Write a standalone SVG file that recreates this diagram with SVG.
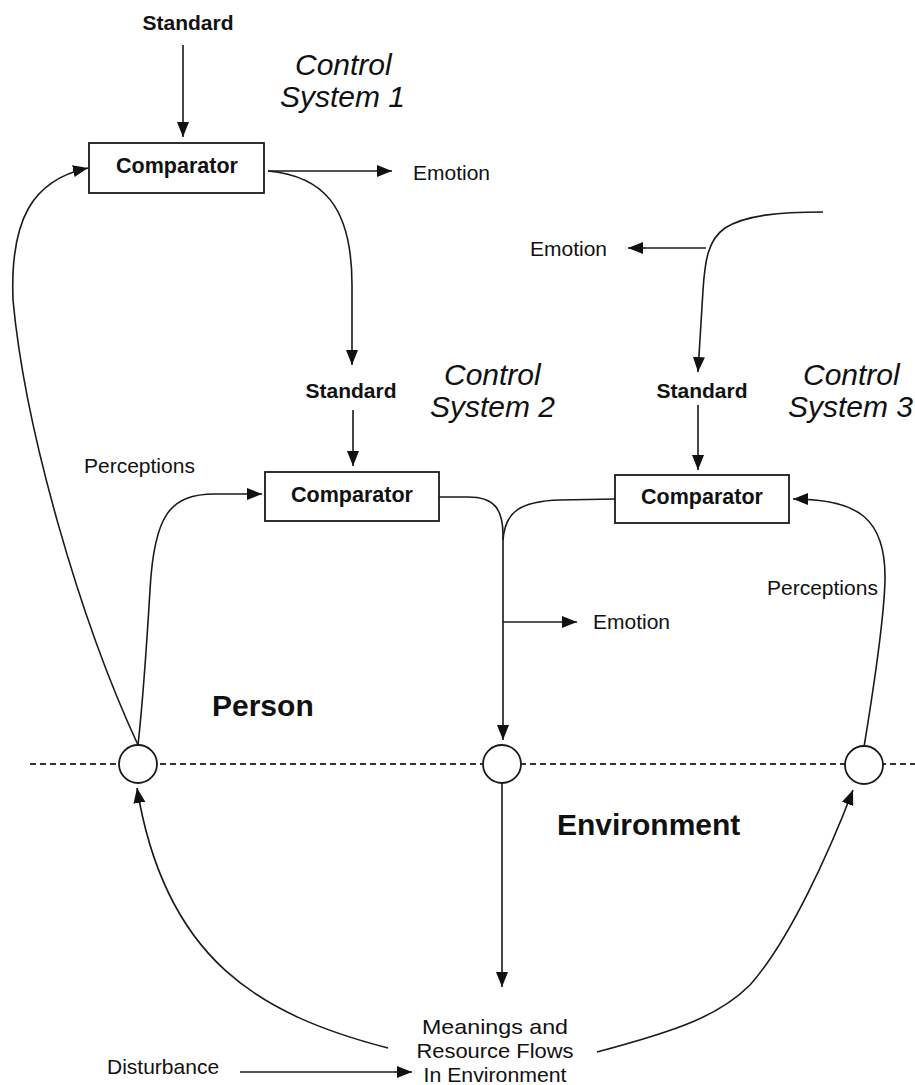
<svg xmlns="http://www.w3.org/2000/svg" width="915" height="1085" viewBox="0 0 915 1085">
<style>
.bg{fill:#fff}
.ln{fill:none;stroke:#1a1a1a;stroke-width:1.6}
.dash{fill:none;stroke:#333;stroke-width:2;stroke-dasharray:6 4}
.box{fill:#fff;stroke:#1a1a1a;stroke-width:1.8}
.circ{fill:#fff;stroke:#1a1a1a;stroke-width:1.8}
.b{font-family:"Liberation Sans",Arial,sans-serif;font-weight:bold;fill:#111}
.r{font-family:"Liberation Sans",Arial,sans-serif;fill:#111}
.i{font-family:"Liberation Sans",Arial,sans-serif;font-style:italic;font-size:30px;fill:#111}
.std{font-size:21px;text-anchor:middle}
.cmp{font-size:21.5px;text-anchor:middle}
.emo{font-size:21px}
.per{font-size:21px}
.env{font-size:21px;text-anchor:middle}
</style>
<defs>
<marker id="ah" markerUnits="userSpaceOnUse" markerWidth="16" markerHeight="12" refX="15" refY="6" orient="auto">
<path d="M0,0 L15,6 L0,12 z" fill="#111"/>
</marker>
</defs>
<rect class="bg" x="0" y="0" width="915" height="1085"/>
<g id="connectors">
<line class="dash" x1="30" y1="764" x2="915" y2="764"/>
<path class="ln" d="M183,45 L183,137" marker-end="url(#ah)"/>
<path class="ln" d="M268,171 L392,171" marker-end="url(#ah)"/>
<path class="ln" d="M268,171 C322,176 352,205 352,285 L352,365" marker-end="url(#ah)"/>
<path class="ln" d="M353,410 L353,466" marker-end="url(#ah)"/>
<path class="ln" d="M138,745 C80,620 25,430 13,300 C10,220 32,180 88,168" marker-end="url(#ah)"/>
<path class="ln" d="M138,745 C143,700 147,640 150,590 C154,515 170,494 215,494 L262,494" marker-end="url(#ah)"/>
<path class="ln" d="M439,497 L468,497 C495,497 503,510 503,535 L503,740" marker-end="url(#ah)"/>
<path class="ln" d="M615,499 L560,500 C520,501 505,512 503,540"/>
<path class="ln" d="M503,622 L577,622" marker-end="url(#ah)"/>
<path class="ln" d="M823,212 C780,212 745,215 725,228 C708,240 705,260 703,290 L698,372" marker-end="url(#ah)"/>
<path class="ln" d="M706,248 L628,248" marker-end="url(#ah)"/>
<path class="ln" d="M698,405 L698,470" marker-end="url(#ah)"/>
<path class="ln" d="M864,747 C875,680 884,620 885,580 C886,520 860,499 793,499" marker-end="url(#ah)"/>
<path class="ln" d="M502,783 L502,987" marker-end="url(#ah)"/>
<path class="ln" d="M388,1048 C260,1015 165,960 137,788" marker-end="url(#ah)"/>
<path class="ln" d="M597,1052 C680,1030 720,1015 750,985 C790,940 830,850 853,790" marker-end="url(#ah)"/>
<path class="ln" d="M240,1072 L412,1072" marker-end="url(#ah)"/>
</g>
<g id="standard1"><text class="b std" x="188" y="30">Standard</text></g>
<g id="cs1-label"><text class="i" x="295" y="75">Control</text><text class="i" x="280" y="107">System 1</text></g>
<g id="comparator1"><rect class="box" x="89" y="143" width="175" height="50"/><text class="b cmp" x="177" y="173">Comparator</text></g>
<g id="emotion1"><text class="r emo" x="413" y="180">Emotion</text></g>
<g id="emotion2"><text class="r emo" x="530" y="256">Emotion</text></g>
<g id="standard2"><text class="b std" x="351" y="398">Standard</text></g>
<g id="cs2-label"><text class="i" x="444" y="385">Control</text><text class="i" x="430" y="417">System 2</text></g>
<g id="standard3"><text class="b std" x="702" y="398">Standard</text></g>
<g id="cs3-label"><text class="i" x="803" y="385">Control</text><text class="i" x="788" y="417">System 3</text></g>
<g id="comparator2"><rect class="box" x="265" y="472" width="174" height="49"/><text class="b cmp" x="352" y="502">Comparator</text></g>
<g id="comparator3"><rect class="box" x="615" y="475" width="174" height="48"/><text class="b cmp" x="702" y="504">Comparator</text></g>
<g id="perceptions1"><text class="r per" x="84" y="473">Perceptions</text></g>
<g id="perceptions3"><text class="r per" x="767" y="595">Perceptions</text></g>
<g id="emotion3"><text class="r emo" x="593" y="629">Emotion</text></g>
<g id="person"><text class="b" x="212" y="716" font-size="30">Person</text></g>
<g id="environment"><text class="b" x="557" y="835" font-size="30">Environment</text></g>
<g id="circle1"><circle class="circ" cx="138" cy="764" r="19"/></g>
<g id="circle2"><circle class="circ" cx="502" cy="764" r="19"/></g>
<g id="circle3"><circle class="circ" cx="864" cy="765" r="19"/></g>
<g id="meanings"><text class="r env" x="495" y="1034" textLength="146" lengthAdjust="spacingAndGlyphs">Meanings and</text><text class="r env" x="495" y="1058" textLength="157" lengthAdjust="spacingAndGlyphs">Resource Flows</text><text class="r env" x="495" y="1082" textLength="143" lengthAdjust="spacingAndGlyphs">In Environment</text></g>
<g id="disturbance"><text class="r" x="107" y="1074" font-size="21">Disturbance</text></g>
</svg>
